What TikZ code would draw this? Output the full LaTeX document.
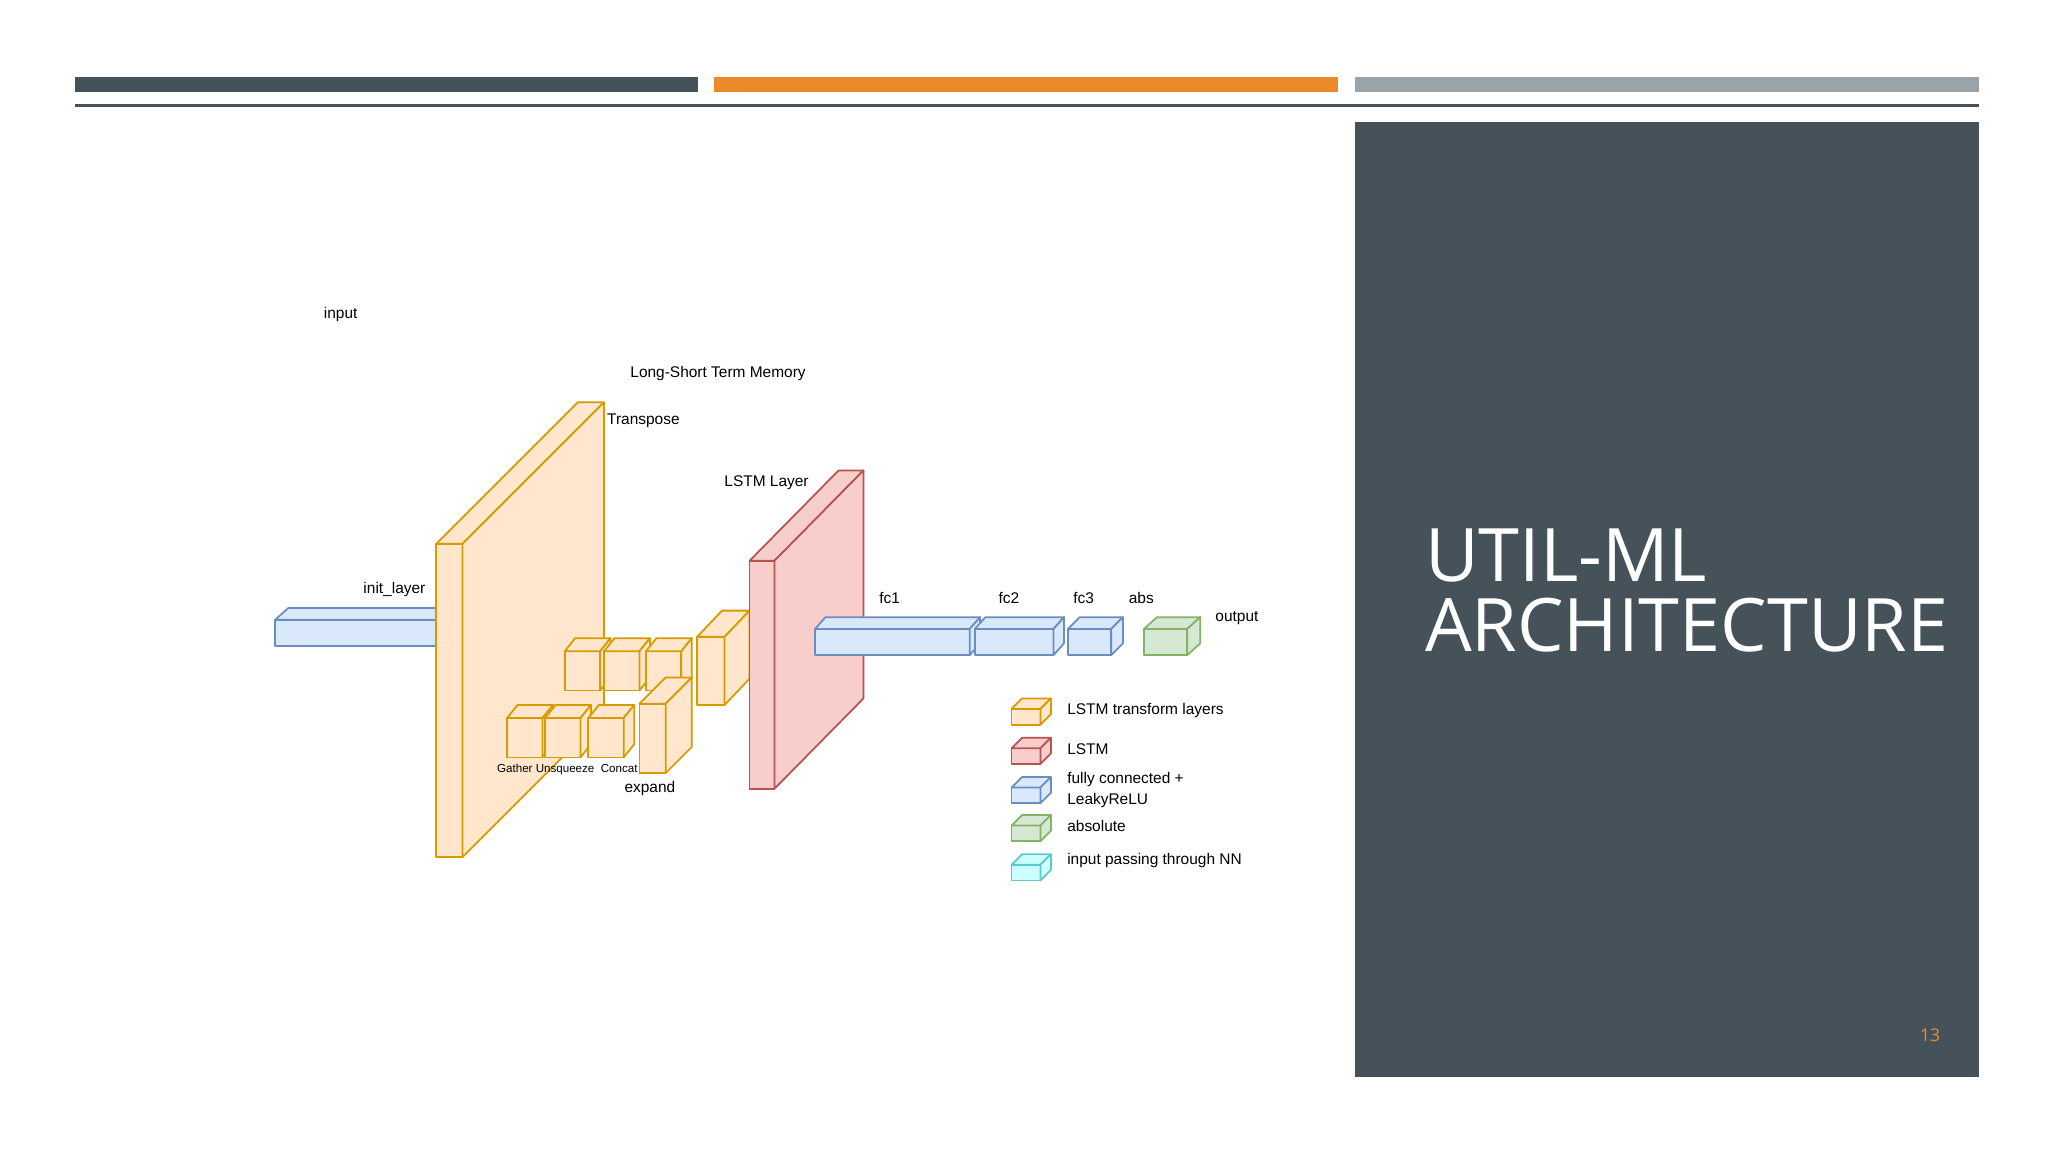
\documentclass[tikz,border=0pt]{standalone}
\usepackage{fontspec}
\setmainfont{Liberation Sans}
\newfontfamily\titlefont{Open Sans}
\definecolor{oF}{HTML}{FFE6CC}\definecolor{oD}{HTML}{D79B00}
\definecolor{rF}{HTML}{F8CECC}\definecolor{rD}{HTML}{B85450}
\definecolor{bF}{HTML}{DAE8FC}\definecolor{bD}{HTML}{6C8EBF}
\definecolor{gF}{HTML}{D5E8D4}\definecolor{gD}{HTML}{82B366}
\definecolor{cF}{HTML}{CCFFFF}\definecolor{cD}{HTML}{5FC9C9}
\definecolor{slate}{HTML}{465259}\definecolor{orbar}{HTML}{EB8A2B}\definecolor{grbar}{HTML}{9AA3A8}
\newcommand\cub[8]{%
 \filldraw[fill=#7,draw=#8,line width=0.5pt,line join=round] (#1,#2) rectangle ++(#3,#4);
 \filldraw[fill=#7,draw=#8,line width=0.5pt,line join=round] (#1,#2) -- ++(#5,-#6) -- ++(#3,0) -- ++(-#5,#6) -- cycle;
 \filldraw[fill=#7,draw=#8,line width=0.5pt,line join=round] (#1,#2) ++(#3,0) -- ++(#5,-#6) -- ++(0,#4) -- ++(-#5,#6) -- cycle;}
\tikzset{lbl/.style={inner sep=0pt,font=\fontsize{4.4}{5}\selectfont},
 tiny/.style={inner sep=0pt,font=\fontsize{3.3}{4}\selectfont}}
\begin{document}
\begin{tikzpicture}[x=0.013103cm,y=-0.013103cm]
\useasboundingbox (0,0) rectangle (1563,879);
\fill[white] (0,0) rectangle (1563,879);
\fill[slate] (57,59) rectangle (533,70);
\fill[orbar] (545,59) rectangle (1021,70);
\fill[grbar] (1034,59) rectangle (1510,70);
\fill[slate] (57,79) rectangle (1510,82);
\fill[slate] (1034,93) rectangle (1510,822);
\node[anchor=base west,inner sep=0pt,text=white,font=\titlefont\fontsize{21}{25}\selectfont,align=left] (title) at (1087,444) {UTIL-ML};
\node[anchor=base west,inner sep=0pt,text=white,font=\titlefont\fontsize{21}{25}\selectfont] (title2) at (1087,497) {ARCHITECTURE};
\node[text=orbar,font=\titlefont\fontsize{5}{6}\selectfont,inner sep=0pt] (pg) at (1473,790) {13};
% diagram
\cub{210}{473}{123}{20}{10}{9}{bF}{bD}
\cub{333}{415}{20}{239}{108}{108}{oF}{oD}
\cub{431}{497}{27}{30}{8}{10}{oF}{oD}
\cub{461}{497}{27}{30}{8}{10}{oF}{oD}
\cub{493}{497}{27}{30}{8}{10}{oF}{oD}
\cub{387}{548}{27}{30}{8}{10}{oF}{oD}
\cub{416}{548}{27}{30}{8}{10}{oF}{oD}
\cub{449}{548}{27}{30}{8}{10}{oF}{oD}
\cub{488}{537}{20}{53}{20}{20}{oF}{oD}
\cub{532}{486}{21}{52}{19}{20}{oF}{oD}
\cub{572}{428}{19}{174}{68}{69}{rF}{rD}
\cub{622}{480}{118}{20}{8}{9}{bF}{bD}
\cub{744}{480}{60}{20}{8}{9}{bF}{bD}
\cub{815}{480}{33}{20}{9}{9}{bF}{bD}
\cub{873}{480}{33}{20}{10}{9}{gF}{gD}
% legend
\cub{772}{541}{22}{12}{8}{8}{oF}{oD}
\cub{772}{571}{22}{12}{8}{8}{rF}{rD}
\cub{772}{601}{22}{12}{8}{8}{bF}{bD}
\cub{772}{630}{22}{12}{8}{8}{gF}{gD}
\cub{772}{660}{22}{12}{8}{8}{cF}{cD}
\node[lbl,anchor=west] (l1) at (814,542) {LSTM transform layers};
\node[lbl,anchor=west] (l2) at (814,572) {LSTM};
\node[lbl,anchor=west,align=left] (l3) at (814,603) {fully connected +\\[1pt]LeakyReLU};
\node[lbl,anchor=west] (l4) at (814,630) {absolute};
\node[lbl,anchor=west] (l5) at (814,657) {input passing through NN};
% labels
\node[lbl] (t1) at (260,240) {input};
\node[lbl] (t2) at (548,285) {Long-Short Term Memory};
\node[lbl] (t3) at (491,321) {Transpose};
\node[lbl] (t4) at (585,368) {LSTM Layer};
\node[lbl] (t5) at (301,450) {init\_layer};
\node[lbl] (t6) at (679,456) {fc1};
\node[lbl] (t7) at (770,456) {fc2};
\node[lbl] (t8) at (827,456) {fc3};
\node[lbl] (t9) at (871,456) {abs};
\node[lbl] (t10) at (944,472) {output};
\node[tiny] (t11) at (433,587) {Gather Unsqueeze\ \ Concat};
\node[lbl] (t12) at (496,602) {expand};
\end{tikzpicture}
\end{document}
